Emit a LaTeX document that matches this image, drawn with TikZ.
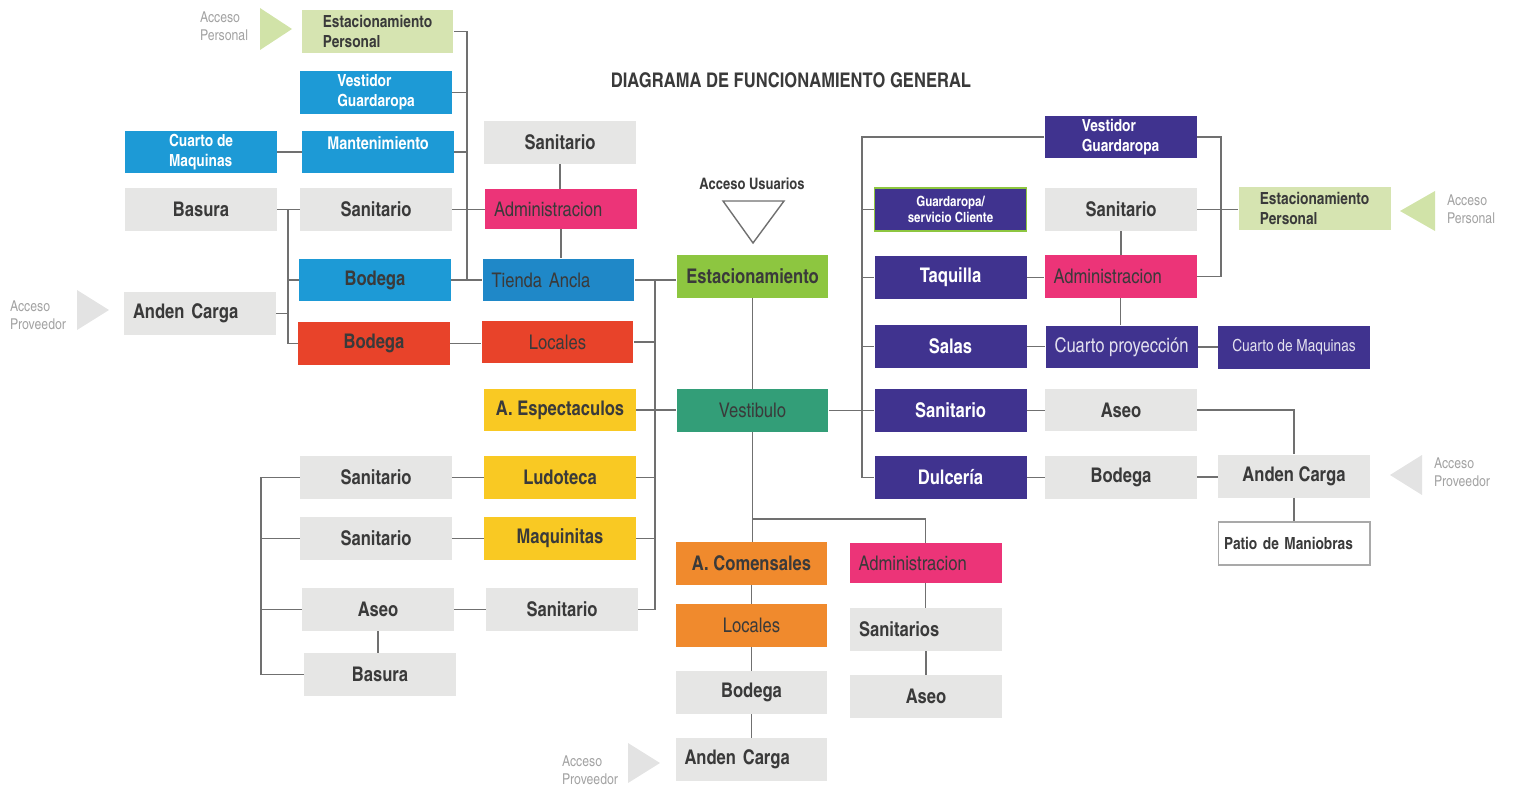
\documentclass[tikz,border=0pt]{standalone}
\usepackage{fontspec}
\setmainfont{texgyreheroscn}[Extension=.otf,UprightFont=*-regular,BoldFont=*-bold,ItalicFont=*-italic,BoldItalicFont=*-bolditalic]
\usepackage{tikz}
\definecolor{boxgray}{HTML}{E6E6E5}
\definecolor{lgreen}{HTML}{D6E4B1}
\definecolor{sky}{HTML}{1D9AD6}
\definecolor{ancla}{HTML}{1F88C8}
\definecolor{brick}{HTML}{E8432A}
\definecolor{rose}{HTML}{EC3478}
\definecolor{sun}{HTML}{F9C923}
\definecolor{leaf}{HTML}{8DC640}
\definecolor{teal}{HTML}{339E78}
\definecolor{tang}{HTML}{F08A2D}
\definecolor{indigo}{HTML}{40338F}
\definecolor{txtdark}{HTML}{3A3A3A}
\definecolor{wiregray}{HTML}{707070}
\definecolor{accgray}{HTML}{A3A3A3}
\definecolor{trigray}{HTML}{E3E3E3}
\definecolor{trigreen}{HTML}{D1E3A8}

\begin{document}
\begin{tikzpicture}[x=0.02cm,y=-0.02cm,
  box/.style={minimum width=3.04cm,minimum height=0.86cm,inner sep=2pt,text=txtdark,font=\bfseries\fontsize{11.5}{13}\selectfont},
  two/.style={align=left,font=\bfseries\fontsize{9.5}{11.3}\selectfont},
  lft/.style={inner xsep=0.18cm,text width=2.68cm,align=left},
  acc/.style={align=left,text=accgray,font=\fontsize{8.5}{10}\selectfont},
  wire/.style={draw=wiregray,line width=0.9pt}]
\useasboundingbox (0,0) rectangle (1513,787);

\node[font=\bfseries\fontsize{11.5}{13}\selectfont,text=txtdark] (title) at (791,80) {DIAGRAMA DE FUNCIONAMIENTO GENERAL};

% ---- left wing
\node[box,two,fill=lgreen] (ep1) at (377.5,31.5) {Estacionamiento\\Personal};
\node[acc] (ap1) at (224,26) {Acceso\\Personal};
\fill[trigreen] (260,8) -- (292,29) -- (260,50) -- cycle;
\node[box,two,fill=sky,text=white] (vg1) at (376,92.5) {Vestidor\\Guardaropa};
\node[box,two,fill=sky,text=white] (cm1) at (201,152) {Cuarto de\\Maquinas};
\node[box,fill=sky,text=white,font=\bfseries\fontsize{10}{12}\selectfont] (mant) at (378,152) {\raisebox{0.36cm}{Mantenimiento}};
\node[box,fill=boxgray] (bas1) at (201,209.5) {Basura};
\node[box,fill=boxgray] (san1) at (376,209.5) {Sanitario};
\node[box,fill=sky] (bod1) at (375,280) {Bodega};
\node[box,lft,fill=boxgray] (anc1) at (200,313.5) {Anden Carga};
\node[box,fill=brick] (bod2) at (374,343.5) {Bodega};
\node[acc] (aprov1) at (38,315) {Acceso\\Proveedor};
\fill[trigray] (77,290) -- (109,310) -- (77,330) -- cycle;

\node[box,fill=boxgray] (san2) at (560,142.5) {Sanitario};
\node[box,lft,fill=rose,minimum height=0.8cm,font=\fontsize{11.5}{13}\selectfont] (adm1) at (561,209) {Administracion};
\node[box,lft,fill=ancla,font=\fontsize{11.5}{13}\selectfont] (tanc) at (558.5,280) {Tienda Ancla};
\node[box,fill=brick,font=\fontsize{11.5}{13}\selectfont] (loc1) at (557.5,342) {Locales};
\node[box,fill=sun] (aesp) at (560,410) {A. Espectaculos};
\node[box,fill=sun] (ludo) at (560,477.5) {Ludoteca};
\node[box,fill=sun] (maqu) at (560,538.5) {Maquinitas};
\node[box,fill=boxgray] (san3) at (562,609.5) {Sanitario};

\node[box,fill=boxgray] (san4) at (376,477.5) {Sanitario};
\node[box,fill=boxgray] (san5) at (376,538.5) {Sanitario};
\node[box,fill=boxgray] (aseo1) at (378,609.5) {Aseo};
\node[box,fill=boxgray] (bas2) at (380,674.5) {Basura};

% ---- centre
\node[font=\bfseries\fontsize{9}{11}\selectfont,text=txtdark] (accu) at (752,184) {Acceso Usuarios};
\draw[wiregray,line width=0.8pt,fill=white] (723,201) -- (784,201) -- (753,243) -- cycle;
\node[box,fill=leaf] (est) at (752.5,276.5) {Estacionamiento};
\node[box,fill=teal,font=\fontsize{11.5}{13}\selectfont] (vest) at (752.5,410.5) {Vestibulo};
\node[box,fill=tang] (acom) at (751.5,563.5) {A. Comensales};
\node[box,fill=tang,font=\fontsize{11.5}{13}\selectfont] (loc2) at (751.5,625.5) {Locales};
\node[box,fill=boxgray] (bod3) at (751.5,692.5) {Bodega};
\node[box,lft,fill=boxgray] (anc2) at (751.5,759.5) {Anden Carga};
\node[acc] (aprov2) at (590,770) {Acceso\\Proveedor};
\fill[trigray] (628,743) -- (660,763) -- (628,783) -- cycle;
\node[box,lft,fill=rose,minimum height=0.8cm,font=\fontsize{11.5}{13}\selectfont] (adm2) at (925.5,563) {Administracion};
\node[box,lft,fill=boxgray] (sans) at (926,629.5) {Sanitarios};
\node[box,fill=boxgray] (aseo2) at (926,696.5) {Aseo};

% ---- right wing
\node[box,two,fill=indigo,text=white] (vg2) at (1120.5,137) {Vestidor\\Guardaropa};
\node[box,fill=indigo,draw=leaf,line width=0.8pt,text=white,align=center,font=\bfseries\fontsize{8}{9.5}\selectfont] (gsc) at (950.5,209.5) {Guardaropa/\\servicio Cliente};
\node[box,fill=boxgray] (san6) at (1121,209.5) {Sanitario};
\node[box,two,fill=lgreen] (ep2) at (1314.5,208.5) {Estacionamiento\\Personal};
\fill[trigreen] (1435,191) -- (1400,211) -- (1435,231) -- cycle;
\node[acc] (ap2) at (1471,209) {Acceso\\Personal};
\node[box,fill=indigo,text=white] (taq) at (950.5,277.5) {Taquilla};
\node[box,lft,fill=rose,font=\fontsize{11.5}{13}\selectfont] (adm3) at (1120.5,276.5) {Administracion};
\node[box,fill=indigo,text=white] (salas) at (950.5,346.5) {Salas};
\node[box,fill=indigo,text=white!85!indigo,font=\fontsize{11.5}{13}\selectfont] (cproy) at (1121.5,347) {Cuarto proyección};
\node[box,fill=indigo,text=white!85!indigo,font=\fontsize{9.5}{11}\selectfont] (cm2) at (1294,347.5) {Cuarto de Maquinas};
\node[box,fill=indigo,text=white] (san7) at (950.5,410.5) {Sanitario};
\node[box,fill=boxgray] (aseo3) at (1121,410) {Aseo};
\node[box,fill=indigo,text=white] (dulc) at (950.5,477.5) {Dulcería};
\node[box,fill=boxgray] (bod4) at (1121,477) {Bodega};
\node[box,fill=boxgray] (anc3) at (1294,476) {Anden Carga};
\fill[trigray] (1422,455) -- (1390,475) -- (1422,495) -- cycle;
\node[acc] (aprov3) at (1462,472) {Acceso\\Proveedor};
\node[box,lft,draw=wiregray!60,line width=0.6pt,fill=white,font=\bfseries\fontsize{9.5}{11}\selectfont,inner xsep=0.12cm,text width=2.8cm] (patio) at (1294,543.5) {Patio de Maniobras};

% ---- connectors
\coordinate (busL) at (467,31);
\coordinate (busM) at (288,209.5);
\coordinate (busC) at (655,280);
\coordinate (busB) at (261,477.5);
\coordinate (brA) at (752.5,519);
\coordinate (busR) at (862,137);
\coordinate (busRR) at (1221,137);

\draw[wire] (ep1.east) -| (busL |- tanc.west);
\draw[wire] (vg1.east) -- (vg1.east -| busL);
\draw[wire] (mant.east) -- (mant.east -| busL);
\draw[wire] (san1.east) -- (san1.east -| adm1.west);
\draw[wire] (bod1.east) -- (tanc.west);
\draw[wire] (cm1.east) -- (mant.west);
\draw[wire] (bas1.east) -- (san1.west);
\draw[wire] (busM) |- (bod2.west);
\draw[wire] (busM |- bod1.west) -- (bod1.west);
\draw[wire] (anc1.east) -- (anc1.east -| busM);
\draw[wire] (san2.south) -- (san2.south |- adm1.north);
\draw[wire] (adm1.south) -- (adm1.south |- tanc.north);
\draw[wire] (bod2.east) -- (bod2.east -| loc1.west);

\draw[wire] (tanc.east) -- (tanc.east -| est.west);
\draw[wire] (busC) |- (san3.east);
\draw[wire] (loc1.east) -- (loc1.east -| busC);
\draw[wire] (aesp.east) -- (aesp.east -| vest.west);
\draw[wire] (ludo.east) -- (ludo.east -| busC);
\draw[wire] (maqu.east) -- (maqu.east -| busC);
\draw[wire] (ludo.west) -- (san4.east);
\draw[wire] (maqu.west) -- (san5.east);
\draw[wire] (san3.west) -- (aseo1.east);
\draw[wire] (aseo1.south) -- (aseo1.south |- bas2.north);
\draw[wire] (san4.west) -| (busB |- bas2.west) -- (bas2.west);
\draw[wire] (san5.west) -- (san5.west -| busB);
\draw[wire] (aseo1.west) -- (aseo1.west -| busB);

\draw[wire] (est.south) -- (vest.north);
\draw[wire] (vest.south) -- (vest.south |- acom.north);
\draw[wire] (brA) -| (adm2.north);
\draw[wire] (acom.south) -- (acom.south |- loc2.north);
\draw[wire] (loc2.south) -- (bod3.north);
\draw[wire] (bod3.south) -- (anc2.north);
\draw[wire] (adm2.south) -- (adm2.south |- sans.north);
\draw[wire] (sans.south) -- (aseo2.north);

\draw[wire] (vg2.west) -| (busR |- dulc.west) -- (dulc.west);
\draw[wire] (gsc.west) -- (gsc.west -| busR);
\draw[wire] (taq.west) -- (taq.west -| busR);
\draw[wire] (salas.west) -- (salas.west -| busR);
\draw[wire] (vest.east) -- (san7.west);
\draw[wire] (vg2.east) -- (busRR) |- (adm3.east);
\draw[wire] (san6.east) -- (san6.east -| ep2.west);
\draw[wire] (san6.south) -- (san6.south |- adm3.north);
\draw[wire] (taq.east) -- (taq.east -| adm3.west);
\draw[wire] (adm3.south) -- (adm3.south |- cproy.north);
\draw[wire] (salas.east) -- (salas.east -| cproy.west);
\draw[wire] (cproy.east) -- (cproy.east -| cm2.west);
\draw[wire] (san7.east) -- (san7.east -| aseo3.west);
\draw[wire] (aseo3.east) -| (anc3.north);
\draw[wire] (dulc.east) -- (dulc.east -| bod4.west);
\draw[wire] (bod4.east) -- (bod4.east -| anc3.west);
\draw[wire] (anc3.south) -- (patio.north);
\end{tikzpicture}
\end{document}
